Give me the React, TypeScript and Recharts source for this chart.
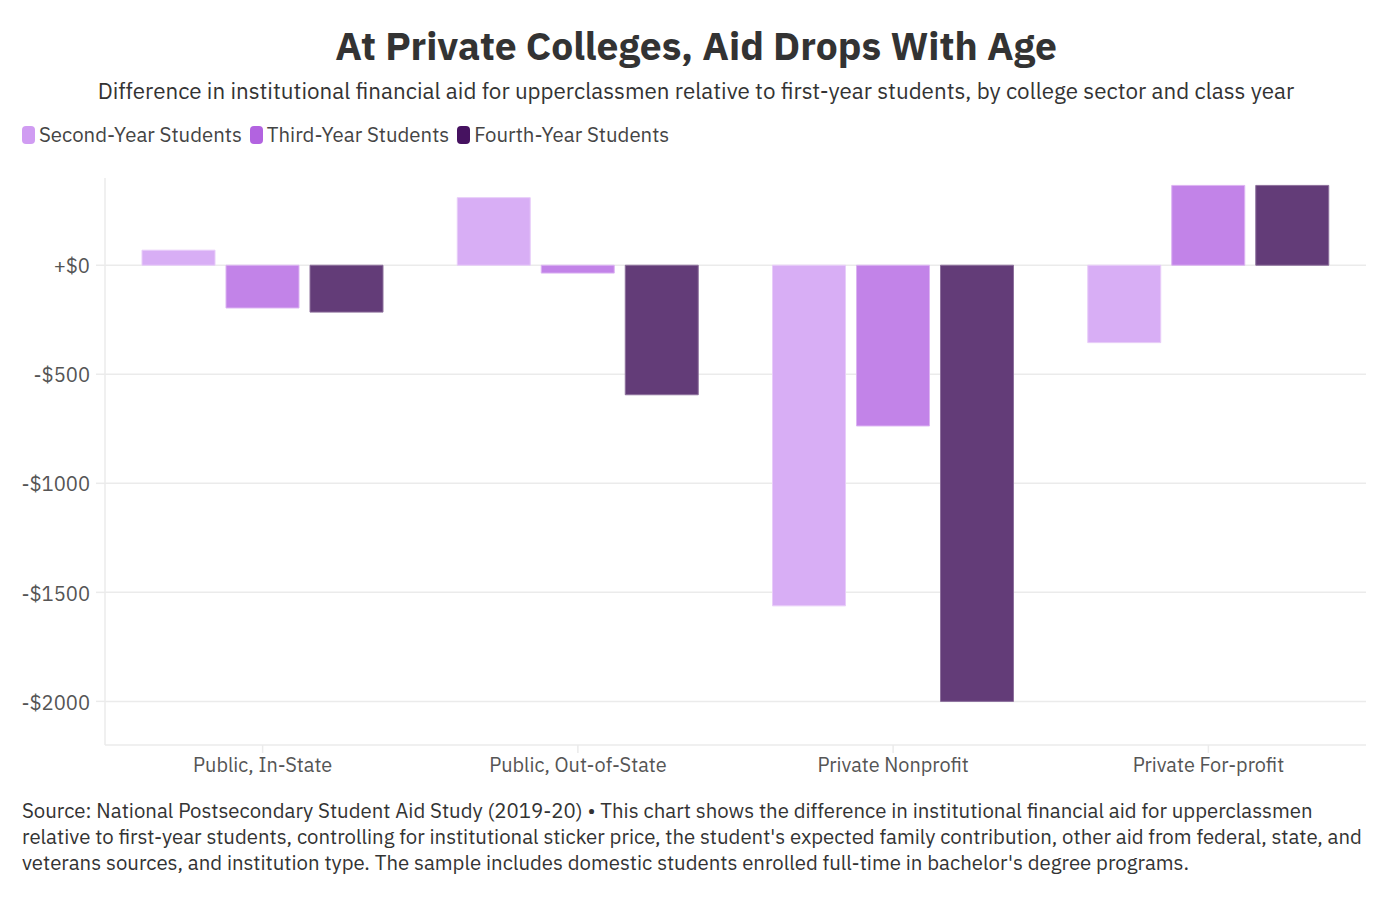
import React from 'react';
import { BarChart, Bar, XAxis, YAxis, CartesianGrid } from 'recharts';

const categories = ['Public, In-State', 'Public, Out-of-State', 'Private Nonprofit', 'Private For-profit'];
const secondYear = [69, 310, -1562, -355];
const thirdYear = [-196, -36, -737, 366];
const fourthYear = [-215, -594, -2000, 366];
const yTicks = [0, -500, -1000, -1500, -2000];

const seriesInfo = [
  { key: 'second', name: 'Second-Year Students', fill: '#d8aef5', stroke: '#e8cdf9', swatch: '#d09cf2' },
  { key: 'third', name: 'Third-Year Students', fill: '#c283e8', stroke: '#dcb3f2', swatch: '#b263e0' },
  { key: 'fourth', name: 'Fourth-Year Students', fill: '#633c78', stroke: '#8d709c', swatch: '#461260' },
];

const data = categories.map((c, i) => ({
  name: c,
  second: secondYear[i],
  third: thirdYear[i],
  fourth: fourthYear[i],
}));

const FONT = '"IBM Plex Sans", "Open Sans", sans-serif';

const fmtMoney = (v: number) => (v === 0 ? '+$0' : v < 0 ? `-$${Math.abs(v)}` : `+$${v}`);

export default function App() {
  return (
    <div style={{ position: 'absolute', left: 0, top: 0, width: 1392, height: 898, background: '#fff', fontFamily: FONT, color: '#333' }}>
      <div style={{ position: 'absolute', top: 23, width: 1392, textAlign: 'center', fontSize: 39, fontWeight: 700, color: '#333', lineHeight: '46px' }}>
        At Private Colleges, Aid Drops With Age
      </div>
      <div style={{ position: 'absolute', top: 77, width: 1392, textAlign: 'center', fontSize: 22.4, color: '#333', lineHeight: '28px' }}>
        Difference in institutional financial aid for upperclassmen relative to first-year students, by college sector and class year
      </div>
      <div style={{ position: 'absolute', top: 122, left: 22, display: 'flex', alignItems: 'center', fontSize: 20.4, color: '#444', lineHeight: '26px' }}>
        {seriesInfo.map((s) => (
          <div key={s.key} style={{ display: 'flex', alignItems: 'center', marginRight: 8 }}>
            <div style={{ width: 13, height: 18, borderRadius: 4, background: s.swatch, marginRight: 4 }} />
            <span>{s.name}</span>
          </div>
        ))}
      </div>

      <div style={{ position: 'absolute', top: 160, left: 0 }}>
        <BarChart
          width={1392}
          height={640}
          data={data}
          margin={{ top: 18, right: 26, left: 45, bottom: 15 }}
          barCategoryGap={37}
          barGap={11}
        >
          <CartesianGrid vertical={false} horizontalValues={yTicks} stroke="#ebebeb" strokeWidth={1.5} />
          <XAxis
            dataKey="name"
            height={40}
            tickSize={8}
            tickMargin={5}
            axisLine={{ stroke: '#ebebeb', strokeWidth: 1.5 }}
            tickLine={{ stroke: '#ebebeb', strokeWidth: 1.5 }}
            tick={{ fill: '#555', fontSize: 19.9, fontFamily: FONT }}
          />
          <YAxis
            domain={[-2200, 400]}
            ticks={yTicks}
            width={60}
            tickSize={9}
            tickMargin={6}
            tickFormatter={fmtMoney}
            axisLine={{ stroke: '#ebebeb', strokeWidth: 1.5 }}
            tickLine={{ stroke: '#ebebeb', strokeWidth: 1.5 }}
            tick={{ fill: '#555', fontSize: 20.2, fontFamily: FONT, dy: 1 }}
          />
          {seriesInfo.map((s) => (
            <Bar key={s.key} dataKey={s.key} name={s.name} fill={s.fill} stroke={s.stroke} strokeWidth={1} isAnimationActive={false} />
          ))}
        </BarChart>
      </div>

      <div style={{ position: 'absolute', top: 798, left: 22, fontSize: 20.4, lineHeight: '26px', color: '#333', whiteSpace: 'nowrap' }}>
        <div>Source: National Postsecondary Student Aid Study (2019-20) • This chart shows the difference in institutional financial aid for upperclassmen</div>
        <div>relative to first-year students, controlling for institutional sticker price, the student's expected family contribution, other aid from federal, state, and</div>
        <div>veterans sources, and institution type. The sample includes domestic students enrolled full-time in bachelor's degree programs.</div>
      </div>
    </div>
  );
}
